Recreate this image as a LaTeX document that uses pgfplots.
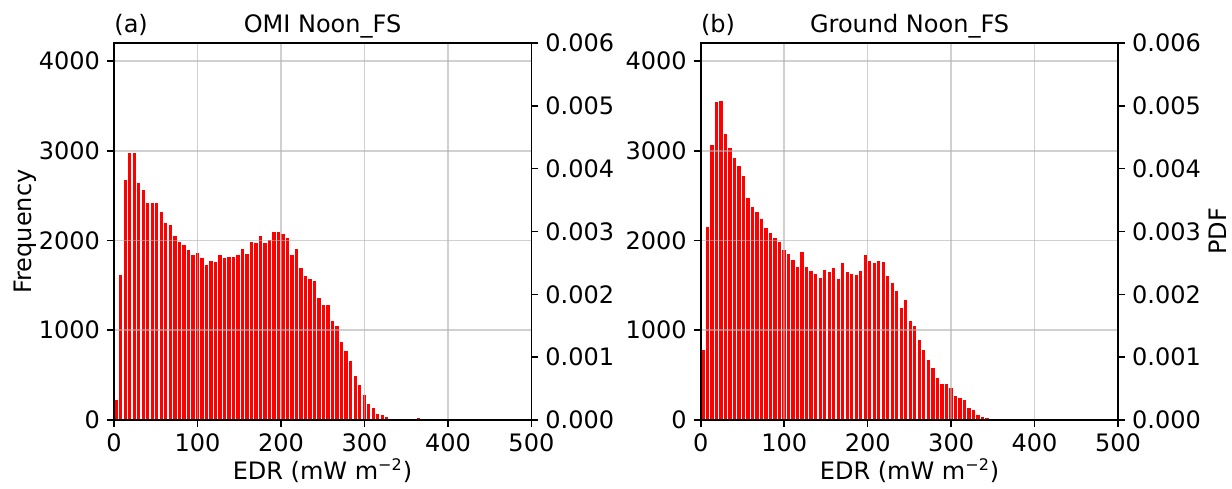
\documentclass[border=0pt]{standalone}
\usepackage{fontspec}
\setmainfont{DejaVu Sans}
\usepackage{pgfplots}
\pgfplotsset{compat=1.18}
\usepackage{pgfplotstable}
\definecolor{gridgray}{RGB}{176,176,176}

\pgfplotstableread{
x y
0 230
5.4 1620
10.8 2684
16.2 2981
21.6 2985
27.0 2643
32.4 2572
37.8 2428
43.2 2420
48.6 2428
54.0 2323
59.4 2204
64.8 2178
70.2 2056
75.6 1985
81.0 1952
86.4 1903
91.8 1848
97.2 1870
102.6 1807
108.0 1736
113.4 1777
118.8 1766
124.2 1844
129.6 1810
135.0 1818
140.4 1822
145.8 1848
151.2 1907
156.6 1859
162.0 1989
167.4 1978
172.8 2056
178.2 1981
183.6 2007
189.0 2097
194.4 2104
199.8 2082
205.2 2033
210.6 1848
216.0 1914
221.4 1703
226.8 1610
232.2 1576
237.6 1558
243.0 1368
248.4 1290
253.8 1283
259.2 1115
264.6 1059
270.0 877
275.4 777
280.8 665
286.2 494
291.6 394
297.0 286
302.4 186
307.8 138
313.2 71
318.6 63
324.0 37
329.4 22
334.8 11
340.2 11
345.6 15
351.0 11
356.4 15
361.8 26
367.2 19
372.6 15
378.0 11
383.4 22
388.8 11
394.2 4
399.6 3
405.0 3
410.4 0
}\omitable

\pgfplotstableread{
x y
0 781
5.4 2160
10.8 3074
16.2 3550
21.6 3558
27.0 3190
32.4 3041
37.8 2922
43.2 2836
48.6 2729
54.0 2483
59.4 2375
64.8 2323
70.2 2242
75.6 2149
81.0 2093
86.4 2030
91.8 1985
97.2 1900
102.6 1859
108.0 1792
113.4 1714
118.8 1877
124.2 1714
129.6 1665
135.0 1632
140.4 1591
145.8 1680
151.2 1651
156.6 1699
162.0 1572
167.4 1758
172.8 1658
178.2 1636
183.6 1625
189.0 1662
194.4 1840
199.8 1781
205.2 1755
210.6 1777
216.0 1762
221.4 1613
226.8 1535
232.2 1446
237.6 1260
243.0 1349
248.4 1112
253.8 1052
259.2 896
264.6 788
270.0 673
275.4 584
280.8 472
286.2 409
291.6 413
297.0 364
302.4 271
307.8 257
313.2 230
318.6 141
324.0 115
329.4 67
334.8 45
340.2 26
345.6 0
}\groundtable

\pgfplotsset{
  base/.style={
    scale only axis, width=208.7pt, height=188.5pt, anchor=south west,
    xmin=0, xmax=500,
    tick align=outside, major tick length=3.5pt,
    every tick/.style={black, line width=0.8pt},
    axis line style={line width=0.8pt},
    tick label style={font=\fontsize{12}{14}\selectfont},
    /pgf/number format/assume math mode=true,
    scaled y ticks=false,
  },
  histax/.style={
    base,
    ymin=0, ymax=4200,
    xtick={0,100,200,300,400,500}, ytick={0,1000,2000,3000,4000},
    grid=major, major grid style={draw=gridgray, opacity=0.6, line width=0.8pt},
    axis on top,
    xtick pos=bottom, ytick pos=left,
    /pgf/number format/1000 sep={},
  },
  pdfax/.style={
    base,
    ymin=0, ymax=0.006,
    axis x line=none, axis y line*=right,
    ytick={0,0.001,0.002,0.003,0.004,0.005,0.006},
    yticklabel style={/pgf/number format/.cd, fixed, fixed zerofill, precision=3},
  },
}

\begin{document}
\begin{tikzpicture}
\useasboundingbox (0,0) rectangle (616pt,244pt);
% left panel
\begin{axis}[histax, at={(57pt,34pt)}]
\addplot[ybar interval, fill=red, draw=white, line width=0.6pt] table[x=x,y=y] {\omitable};
\end{axis}
\begin{axis}[pdfax, at={(57pt,34pt)}]
\addplot[draw=none] coordinates {(0,0) (500,0.006)};
\end{axis}
% right panel
\begin{axis}[histax, at={(350.35pt,34pt)}]
\addplot[ybar interval, fill=red, draw=white, line width=0.6pt] table[x=x,y=y] {\groundtable};
\end{axis}
\begin{axis}[pdfax, at={(350.35pt,34pt)}]
\addplot[draw=none] coordinates {(0,0) (500,0.006)};
\end{axis}
% texts
\begin{scope}[every node/.style={font=\fontsize{12}{14}\selectfont, inner sep=0pt}]
\node[anchor=base west] at (57pt,227.5pt) {(a)};
\node[anchor=base] at (161.25pt,227.5pt) {OMI Noon\_FS};
\node[anchor=base west] at (350.35pt,227.5pt) {(b)};
\node[anchor=base] at (454.8pt,227.5pt) {Ground Noon\_FS};
\node[rotate=90] at (12.5pt,128.25pt) {Frequency};
\node[rotate=90] at (609pt,128.25pt) {PDF};
\node[anchor=base] at (161.25pt,4.5pt) {EDR (mW m\textsuperscript{−2})};
\node[anchor=base] at (454.8pt,4.5pt) {EDR (mW m\textsuperscript{−2})};
\end{scope}
\end{tikzpicture}
\end{document}
